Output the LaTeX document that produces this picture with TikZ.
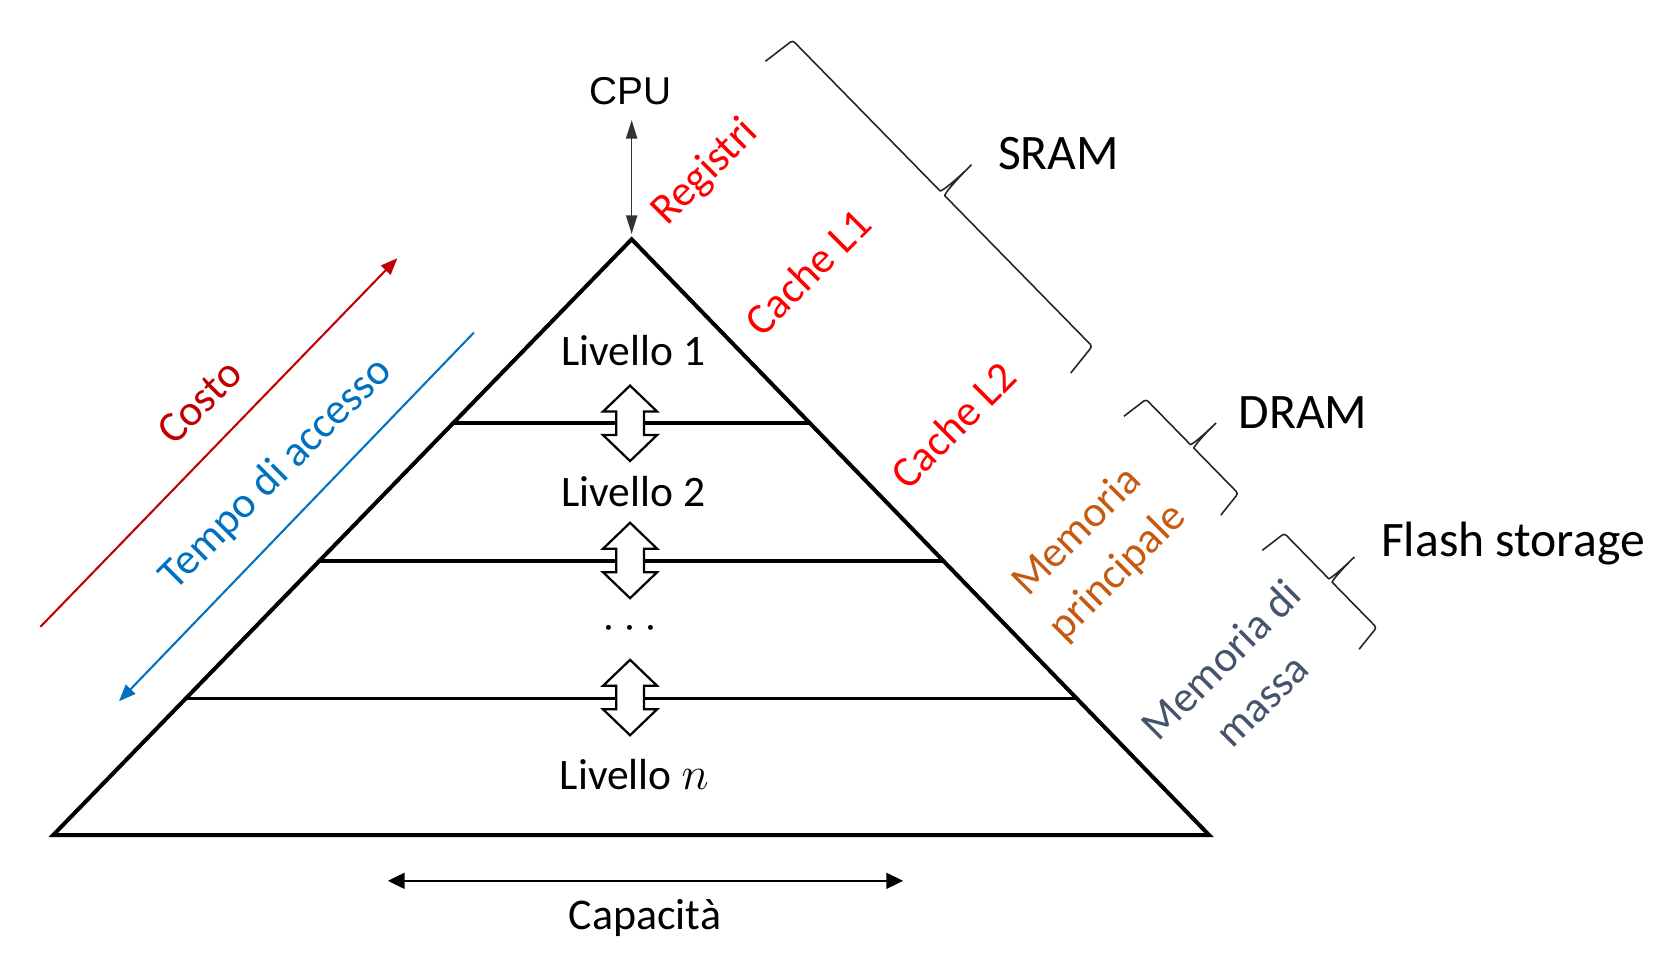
\documentclass[tikz,border=0pt]{standalone}
\usepackage{fontspec}
\setmainfont{Carlito}
\newfontfamily\arialfont{Liberation Sans}
\usetikzlibrary{arrows.meta,calc}
\definecolor{costored}{HTML}{C00000}
\definecolor{tempoblue}{HTML}{0070C0}
\definecolor{memorange}{HTML}{C55A11}
\definecolor{memslate}{HTML}{44546A}
\definecolor{regred}{HTML}{FF0000}
\definecolor{arrowgray}{HTML}{333333}
\newcommand\pptbrace[5]{%
\begin{scope}[shift={#1}, rotate=-45.6]
\draw[bracestyle] ({-0.12*#3},#3) -- (0,0) -- ({#2/2-#5},0)
  .. controls ({#2/2-0.3*#5},0) and ({#2/2},{-0.35*#4}) .. ({#2/2},{-#4})
  .. controls ({#2/2},{-0.35*#4}) and ({#2/2+0.3*#5},0) .. ({#2/2+#5},0)
  -- (#2,0) -- ({#2+0.12*#3},#3);
\end{scope}}
\begin{document}
\begin{tikzpicture}[x=0.02cm,y=-0.02cm,
  pyr/.style={line width=2.15pt, draw=black},
  level/.style={line width=2pt, draw=black},
  blockstyle/.style={draw=black, fill=white, line width=1.2pt, line join=miter},
  bracestyle/.style={draw=black!85, line width=0.85pt, rounded corners=1.5pt},
  lbl/.style={inner sep=0pt, font=\fontsize{23.3}{30.6}\selectfont, rotate=45, align=center},
  lvl/.style={inner sep=0pt, font=\fontsize{23.3}{28}\selectfont, anchor=base},
  big/.style={inner sep=0pt, font=\fontsize{26.6}{32}\selectfont, anchor=base west},
  cpuarrow/.style={draw=arrowgray, line width=0.85pt, {Triangle[length=10pt,width=6pt]}-{Triangle[length=10pt,width=6pt]}, shorten <=0.288cm, shorten >=0.1cm},
  diagarrow/.style={line width=1.1pt, -{Triangle[length=9pt,width=7pt]}},
  caparrow/.style={line width=1.1pt, draw=black, {Triangle[length=9pt,width=8.5pt]}-{Triangle[length=9pt,width=8.5pt]}},
  blockarrow/.pic={\path[blockstyle] (0,-35.5) -- (25.5,-11) -- (13,-11) -- (13,11) -- (25.5,11) -- (0,35.5) -- (-25.5,11) -- (-13,11) -- (-13,-11) -- (-25.5,-11) -- cycle;}]

\useasboundingbox (0,0) rectangle (1568,905.4);

% pyramid
\coordinate (apex) at (594.5,225.2);
\coordinate (bl) at (50,786);
\coordinate (br) at (1138,786);
\draw[pyr] (apex) -- (bl) -- (br) -- cycle;

\coordinate (l1L) at ($(apex)!0.3088!(bl)$);
\coordinate (l1R) at ($(apex)!0.3088!(br)$);
\coordinate (l2L) at ($(apex)!0.54!(bl)$);
\coordinate (l2R) at ($(apex)!0.54!(br)$);
\coordinate (l3L) at ($(apex)!0.7705!(bl)$);
\coordinate (l3R) at ($(apex)!0.7705!(br)$);
\draw[level] (l1L) -- (l1R);
\draw[level] (l2L) -- (l2R);
\draw[level] (l3L) -- (l3R);

\pic (ba1) at (593,398.4) {blockarrow};
\pic (ba2) at (593,527.5) {blockarrow};
\pic (ba3) at (593,656.5) {blockarrow};

% level texts
\node[lvl] (liv1) at (596,344) {Livello 1};
\node[lvl] (liv2) at (596,477) {Livello 2};
\node[lvl] (dots) at (593,602) {$\cdots$};
\node[lvl] (livn) at (597,743) {Livello $n$};

% CPU
\node[inner sep=0pt, font=\arialfont\fontsize{20.8}{24}\selectfont, anchor=base] (cpu) at (593.5,97.9) {CPU};
\draw[cpuarrow] (cpu.south -| apex) -- (apex);

% right labels
\node[lbl, text=regred] (registri) at (664,162.5) {Registri};
\node[lbl, text=regred] (cachel1) at (760,256) {Cache L1};
\node[lbl, text=regred] (cachel2) at (897,400) {Cache L2};
\node[lbl, text=memorange] (mainmem) at (1033,520) {Memoria\\principale};
\node[lbl, text=memslate] (massmem) at (1168,640) {Memoria di\\massa};

% braces and technologies
\pptbrace{(746,38)}{403}{32}{40}{6}
\pptbrace{(1078.6,375.8)}{124}{26}{33}{5}
\pptbrace{(1208.8,502)}{124}{26}{33}{5}
\node[big] (sram) at (939,159.4) {SRAM};
\node[big] (dram) at (1165.5,403) {DRAM};
\node[big] (flash) at (1299.5,523.3) {Flash storage};

% left arrows
\coordinate (costoStart) at (38,590);
\coordinate (costoEnd) at (374,243);
\coordinate (tempoStart) at (446,313);
\coordinate (tempoEnd) at (112,660);
\draw[diagarrow, draw=costored, color=costored] (costoStart) -- (costoEnd);
\draw[diagarrow, draw=tempoblue, color=tempoblue] (tempoStart) -- (tempoEnd);
\node[lbl, text=costored] (costo) at (188,378) {Costo};
\node[lbl, text=tempoblue] (tempo) at (260,446) {Tempo di accesso};

% capacity
\coordinate (capL) at (365,829);
\coordinate (capR) at (850,829);
\draw[caparrow] (capL) -- (capR);
\node[lvl, font=\fontsize{23.5}{26}\selectfont] (cap) at (607,875) {Capacità};
\end{tikzpicture}
\end{document}
